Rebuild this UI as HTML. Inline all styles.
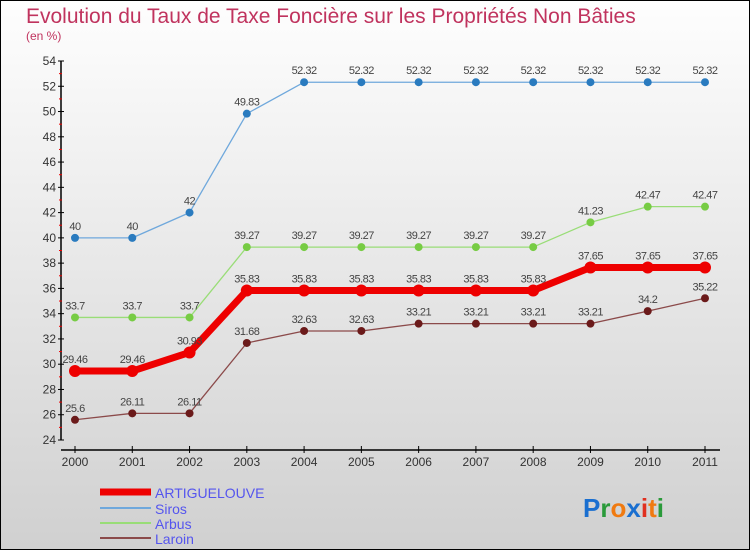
<!DOCTYPE html>
<html><head><meta charset="utf-8"><style>
body{margin:0;}
#c{width:750px;height:550px;position:relative;font-family:"Liberation Sans",sans-serif;}
</style></head><body>
<div id="c">
<svg id="s" width="750" height="550" xmlns="http://www.w3.org/2000/svg">
<defs><linearGradient id="bg" x1="0" y1="0" x2="0" y2="1"><stop offset="0" stop-color="#fefefe"/><stop offset="1" stop-color="#d0d0d0"/></linearGradient></defs>
<rect x="0.5" y="0.5" width="749" height="549" fill="url(#bg)" stroke="#000"/>
<text x="26" y="23" font-size="21" fill="#c0335e">Evolution du Taux de Taxe Foncière sur les Propriétés Non Bâties</text>
<text x="26" y="40" font-size="12" fill="#c0335e">(en %)</text>
<g id="axes"></g><g id="series"></g><g id="legend"></g>
<text x="583" y="517" font-size="26" font-weight="bold"><tspan fill="#1a6fd0">P</tspan><tspan fill="#2a9a3a">r</tspan><tspan fill="#f07a10">o</tspan><tspan fill="#1a6fd0">x</tspan><tspan fill="#e03020">i</tspan><tspan fill="#f07a10">t</tspan><tspan fill="#2a9a3a">i</tspan></text>
</svg></div>
<script>
const years=["2000","2001","2002","2003","2004","2005","2006","2007","2008","2009","2010","2011"];
const artiguelouve=[29.46,29.46,30.93,35.83,35.83,35.83,35.83,35.83,35.83,37.65,37.65,37.65];
const siros=[40,40,42,49.83,52.32,52.32,52.32,52.32,52.32,52.32,52.32,52.32];
const arbus=[33.7,33.7,33.7,39.27,39.27,39.27,39.27,39.27,39.27,41.23,42.47,42.47];
const laroin=[25.6,26.11,26.11,31.68,32.63,32.63,33.21,33.21,33.21,33.21,34.2,35.22];
const yTicks=[24,26,28,30,32,34,36,38,40,42,44,46,48,50,52,54];
const NS="http://www.w3.org/2000/svg";
const X=i=>75+i*(630/11);
const Y=v=>440-(v-24)*(379/30);
function mk(t,a,p){const e=document.createElementNS(NS,t);for(const k in a)e.setAttribute(k,a[k]);p.appendChild(e);return e;}
const ax=document.getElementById('axes');
let l=mk('line',{x1:61,y1:Y(54),x2:61,y2:Y(24),stroke:'#000','stroke-width':1.5},ax);


l=mk('line',{x1:61,y1:450,x2:720,y2:450,stroke:'#000','stroke-width':1.5},ax);


yTicks.forEach(v=>{mk('line',{x1:58,y1:Y(v),x2:64,y2:Y(v),stroke:'#000'},ax);
 if(v<54)mk('line',{x1:59,y1:Y(v+1),x2:62,y2:Y(v+1),stroke:'#e00'},ax);
 const t=mk('text',{x:56,y:Y(v)+4,'font-size':12,'text-anchor':'end',fill:'#333'},ax);t.textContent=v;
 
 });
years.forEach((y,i)=>{mk('line',{x1:X(i),y1:446,x2:X(i),y2:453,stroke:'#000'},ax);
 const t=mk('text',{x:X(i),y:466,'font-size':12,'text-anchor':'middle',fill:'#333'},ax);t.textContent=y;
 
 });
const sg=document.getElementById('series');
function draw(vals,color,dot,w,r,name){
 const g=mk('g',{},sg);
 
 
 mk('polyline',{points:vals.map((v,i)=>X(i)+','+Y(v)).join(' '),fill:'none',stroke:color,'stroke-width':w,'stroke-linejoin':'round'},g);
 vals.forEach((v,i)=>{const c=mk('circle',{cx:X(i),cy:Y(v),r:r,fill:dot},g);
  
  
  const t=mk('text',{x:X(i),y:Y(v)-8,'font-size':11,'text-anchor':'middle',fill:'#444','letter-spacing':'-0.5'},g);t.textContent=v;
  
  });
}
draw(siros,'#6fa8dc','#2a7bbf',1.3,4,'siros');
draw(arbus,'#99dd77','#77cc44',1.3,4,'arbus');
draw(laroin,'#8b4a4a','#6b1a1a',1.3,4,'laroin');
draw(artiguelouve,'#ee0000','#ee0000',7,6,'artiguelouve');
const lg=document.getElementById('legend');
[['ARTIGUELOUVE','#ee0000',7,14],['Siros','#6fa8dc',2,14],['Arbus','#99dd77',2,14],['Laroin','#8b4a4a',2,14]].forEach((d,i)=>{
 const y=[492,508,523,538][i];
 const g=mk('g',{},lg);
 
 
 mk('line',{x1:100,y1:y,x2:151,y2:y,stroke:d[1],'stroke-width':d[2]},g);
 const t=mk('text',{x:155,y:y+6,'font-size':d[3],fill:'#5555ee'},g);t.textContent=d[0];
});
</script></body></html>
